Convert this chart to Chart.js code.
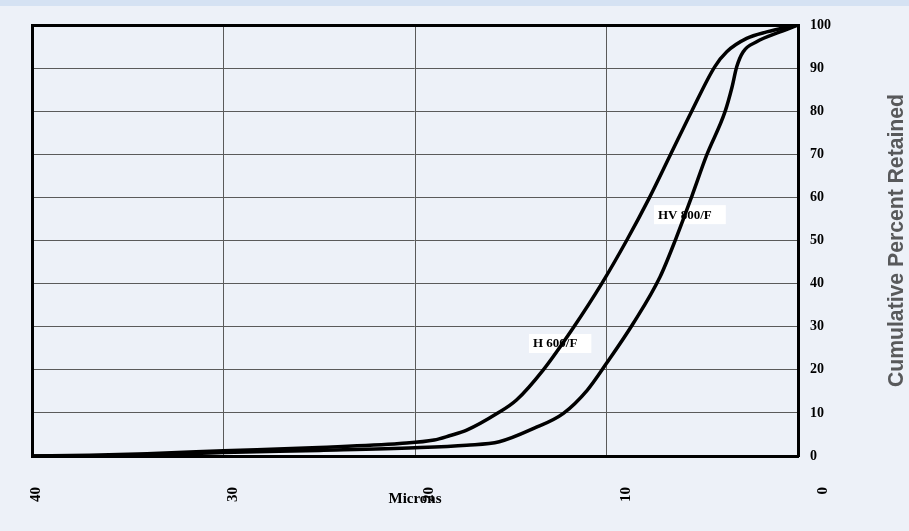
<!DOCTYPE html>
<html>
<head>
<meta charset="utf-8">
<script src="https://cdn.jsdelivr.net/npm/chart.js@4.4.0/dist/chart.umd.min.js"></script>
<style>
  html, body { margin: 0; padding: 0; background: #edf1f8; }
  #wrap { position: relative; width: 909px; height: 531px; overflow: hidden; }
  #band { position: absolute; left: 0; top: 0; width: 909px; height: 6px; background: #d5e2f3; }
  canvas { position: absolute; left: 0; top: 0; }
</style>
</head>
<body>
<div id="wrap"><div id="band"></div><canvas id="chart" width="909" height="531"></canvas></div>
<script>
// tick values
const micronTicks = [40, 30, 20, 10, 0];

// H 600/F curve (microns -> cumulative % retained)
const h600Microns = [40, 37, 34, 30, 25, 20.8, 19, 18.2, 17.3, 15.7, 14.7, 13.3, 11.7, 10.25, 8.95, 7.75, 6.65, 5.55, 4.35, 3.72, 2.68, 1.63, 0];
const h600Percent = [0, 0.15, 0.55, 1.2, 2.0, 2.9, 3.7, 4.7, 6.0, 9.9, 13, 20, 30, 40, 50, 60, 70, 80, 90.3, 93.8, 96.9, 98.4, 100];

// HV 800/F curve
const hv800Microns = [40, 33.8, 30, 25, 20, 17.3, 15.6, 13.8, 12.25, 11.0, 10.0, 8.6, 7.2, 6.37, 5.55, 4.77, 3.81, 3.45, 3.2, 2.86, 2.16, 0.94, 0];
const hv800Percent = [0, 0.2, 0.8, 1.3, 1.9, 2.5, 3.3, 6.4, 9.9, 15.3, 21.5, 30.8, 41.6, 50.5, 60.2, 69.8, 79.9, 85.5, 90.3, 93.8, 96.1, 98.4, 100];

// curve name boxes (top-left corner in data units)
const curveLabels = ["H 600/F", "HV 800/F"];
const labelMicrons = [14.05, 7.52];
const labelPercent = [28.3, 58.2];

const serif = '"Liberation Serif", "Times New Roman", serif';

function toPoints(xs, ys){
    return xs.map((v, i) => ({x: v, y: ys[i]}));
}

const labelBoxes = {
    id: "labelBoxes",
    beforeDatasetsDraw(chart){
        const {ctx, scales: {x, y}} = chart;
        ctx.save();
        ctx.font = "bold 13px " + serif;
        ctx.textBaseline = "middle";
        curveLabels.forEach((text, i) => {
            const left = x.getPixelForValue(labelMicrons[i]);
            const top = y.getPixelForValue(labelPercent[i]);
            const w = ctx.measureText(text).width + 18;
            ctx.fillStyle = "#ffffff";
            ctx.fillRect(left, top, w, 19);
            ctx.fillStyle = "#000000";
            ctx.fillText(text, left + 4, top + 10);
        });
        ctx.restore();
    }
};

// y title reads bottom-to-top on the right side
const rightTitle = {
    id: "rightTitle",
    afterDraw(chart){
        const {ctx, chartArea} = chart;
        ctx.save();
        ctx.translate(chartArea.right + 99, (chartArea.top + chartArea.bottom) / 2);
        ctx.rotate(-Math.PI / 2);
        ctx.font = 'bold 22px "Liberation Sans Narrow", "Liberation Sans", Arial, sans-serif';
        ctx.fillStyle = "#58595b";
        ctx.textAlign = "center";
        ctx.textBaseline = "middle";
        ctx.fillText("Cumulative Percent Retained", 0, 0, 293);
        ctx.restore();
    }
};

const ctx = document.getElementById("chart").getContext("2d");

new Chart(ctx, {
    type: "scatter",
    data: {
        datasets: [{
            label: curveLabels[0],
            data: toPoints(h600Microns, h600Percent),
            showLine: true,
            borderColor: "#000",
            borderWidth: 3.5,
            pointRadius: 0,
            cubicInterpolationMode: "monotone",
            xAxisID: "x",
            yAxisID: "y"
        }, {
            label: curveLabels[1],
            data: toPoints(hv800Microns, hv800Percent),
            showLine: true,
            borderColor: "#000",
            borderWidth: 3.5,
            pointRadius: 0,
            cubicInterpolationMode: "monotone",
            xAxisID: "x",
            yAxisID: "y"
        }]
    },
    options: {
        responsive: false,
        animation: false,
        layout: {padding: {left: 32, top: 25, right: 0, bottom: 0}},
        plugins: {
            legend: {display: false},
            tooltip: {enabled: false}
        },
        scales: {
            x: {
                type: "linear",
                position: "bottom",
                reverse: true,
                min: 0,
                max: 40,
                weight: 0,
                ticks: {display: false, stepSize: 10},
                grid: {color: "#5a5a5a", lineWidth: 1, drawTicks: false},
                border: {color: "#000", width: 3},
                afterFit(s){ s.height = 0; }
            },
            // labels only, sitting slightly off the grid like the original print
            xLabels: {
                type: "linear",
                position: "bottom",
                reverse: true,
                min: 1.27,
                max: 40.2,
                weight: 1,
                afterBuildTicks(s){ s.ticks = micronTicks.map(v => ({value: v})); },
                ticks: {
                    autoSkip: false,
                    minRotation: 90,
                    maxRotation: 90,
                    padding: 31,
                    color: "#000",
                    font: {family: serif, size: 15, weight: "bold"},
                    callback: v => String(v)
                },
                grid: {display: false, drawTicks: false},
                border: {display: false},
                title: {
                    display: true,
                    text: "Microns",
                    color: "#000",
                    font: {family: serif, size: 15, weight: "bold"},
                    padding: {top: 0, bottom: 23}
                },
                afterFit(s){ s.height = 75; }
            },
            y: {
                type: "linear",
                position: "right",
                min: 0,
                max: 100,
                weight: 1,
                ticks: {
                    stepSize: 10,
                    padding: 12,
                    color: "#000",
                    font: {family: serif, size: 14, weight: "bold"}
                },
                grid: {color: "#5a5a5a", lineWidth: 1, drawTicks: false},
                border: {color: "#000", width: 3},
                afterFit(s){ s.width = 111; }
            },
            xTop: {
                type: "linear",
                position: "top",
                min: 0,
                max: 40,
                ticks: {display: false},
                grid: {display: false, drawTicks: false},
                border: {color: "#000", width: 3},
                afterFit(s){ s.height = 0; }
            },
            yLeft: {
                type: "linear",
                position: "left",
                min: 0,
                max: 100,
                ticks: {display: false},
                grid: {display: false, drawTicks: false},
                border: {color: "#000", width: 3},
                afterFit(s){ s.width = 0; }
            }
        }
    },
    plugins: [labelBoxes, rightTitle]
});
</script>
</body>
</html>
